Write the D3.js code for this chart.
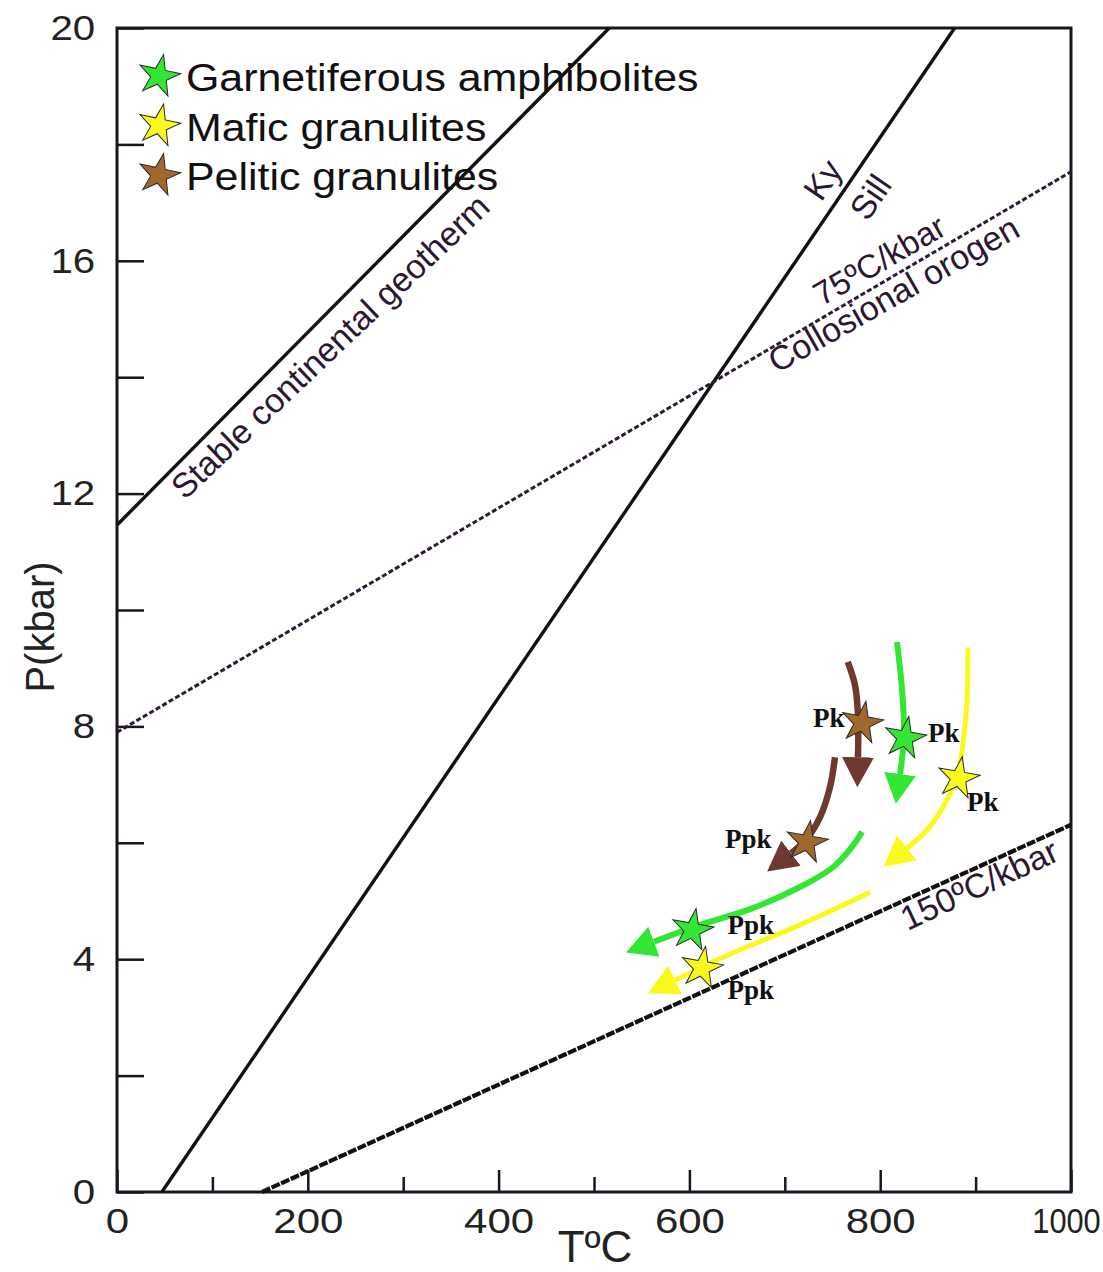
<!DOCTYPE html>
<html><head><meta charset="utf-8">
<script src="https://cdn.jsdelivr.net/npm/d3@7"></script>
<style>body{margin:0;background:#fff}</style>
</head><body><svg id="c" width="1103" height="1272"></svg>
<script>
// ---- data ----
const tempTicks = [0,100,200,300,400,500,600,700,800,900,1000];
const tempLabels = [0,200,400,600,800,1000];
const pressTicks = [0,2,4,6,8,10,12,14,16,18,20];
const pressLabels = [0,4,8,12,16,20];

// reference lines [T, P]
const stableGeotherm = [[0,11.46],[516,20]];
const kySill = [[47,0],[878,20]];
const orogen75 = [[0,7.9],[1000,17.53]];
const gradient150 = [[152,0],[1000,6.31]];

// P-T paths (last point = base of arrow head)
const pelitePath1 = [[766,9.11],[773.6,8.71],[776.7,8.20],[776.7,7.47]];
const pelitePath2 = [[752.6,7.47],[747.4,6.96],[736.9,6.44],[722.2,6.05],[706.5,5.82]];
const amphPath1 = [[817.6,9.45],[822.9,8.63],[825,7.85],[820.8,7.18]];
const amphPath2 = [[781,6.19],[770.4,5.93],[750.5,5.58],[715.9,5.24],[663.5,4.86],[611.1,4.59],[562.9,4.30]];
const maficPath1 = [[892,9.35],[891,8.45],[886.8,7.71],[880.5,7.13],[865.9,6.62],[849.1,6.22],[828.1,5.91]];
const maficPath2 = [[789.3,5.15],[716,4.59],[645.7,4.11],[584.9,3.64]];

// peak / post-peak stars [T, P]
const amphStars = [[826,7.80],[603,4.50]];
const maficStars = [[882,7.11],[613,3.85]];
const peliteStars = [[781,8.06],[723,6.01]];
const starLabels = [
  {t:"Pk",  T:729.6, P:7.99},
  {t:"Ppk", T:637.3, P:5.91},
  {t:"Pk",  T:850,   P:7.73},
  {t:"Ppk", T:640,   P:4.43},
  {t:"Pk",  T:891,   P:6.55},
  {t:"Ppk", T:640,   P:3.31}
];
const legendItems = ["Garnetiferous amphibolites","Mafic granulites","Pelitic granulites"];

// ---- drawing ----
const svg = d3.select("#c");
const x = d3.scaleLinear().domain([0,1000]).range([117,1071]);
const y = d3.scaleLinear().domain([0,20]).range([1192,28]);
const ink = "#1c1420";
const annot = "#2a1830";

const GREEN = "#33e633", YELLOW = "#f9f91e", BROWN_LINE = "#6e3a30", BROWN_STAR = "#a0682d";

const defs = svg.append("defs");
function marker(id, color){
  defs.append("marker").attr("id",id)
    .attr("viewBox","0 -16 30 32").attr("refX",0).attr("refY",0)
    .attr("markerWidth",30).attr("markerHeight",32)
    .attr("markerUnits","userSpaceOnUse").attr("orient","auto")
    .append("path").attr("d","M0,-16L30,0L0,16Z").attr("fill",color);
}
marker("mG",GREEN); marker("mY",YELLOW); marker("mB",BROWN_LINE);

// axes
const gx = svg.append("g").attr("transform",`translate(0,${y(0)})`);
gx.call(d3.axisBottom(x).tickValues(tempTicks.filter(d=>!tempLabels.includes(d))).tickSize(-15).tickFormat(""));
gx.call(g=>g.select(".domain").remove());
const gx2 = svg.append("g").attr("transform",`translate(0,${y(0)})`)
  .call(d3.axisBottom(x).tickValues(tempLabels).tickSize(-22).tickPadding(16).tickFormat(d3.format("d")));
gx2.select(".domain").remove();
svg.selectAll("g.tick line").attr("stroke",ink).attr("stroke-width",2.5);
gx2.selectAll("text").attr("font-family","Liberation Sans, Arial, sans-serif").attr("font-size",35)
  .attr("fill","#222").attr("transform",d=>d===1000?"translate(-5,0) scale(0.88,1)":"scale(1.2,1)");

const gy = svg.append("g").attr("transform",`translate(${x(0)},0)`)
  .call(d3.axisLeft(y).tickValues(pressTicks).tickSize(-27).tickPadding(19)
    .tickFormat(d=>pressLabels.includes(d)?d:""));
gy.select(".domain").remove();
gy.selectAll("line").attr("stroke",ink).attr("stroke-width",2.5);
gy.selectAll("text").attr("font-family","Liberation Sans, Arial, sans-serif").attr("font-size",35)
  .attr("fill","#222").attr("transform","scale(1.15,1)");

// frame
svg.append("rect").attr("x",x(0)).attr("y",y(20)).attr("width",x(1000)-x(0)).attr("height",y(0)-y(20))
  .attr("fill","none").attr("stroke",ink).attr("stroke-width",3);

// axis titles
svg.append("text").attr("transform",`translate(54,${(y(0)+y(20))/2+17}) rotate(-90)`)
  .attr("text-anchor","middle").attr("font-family","Liberation Sans, Arial, sans-serif")
  .attr("font-size",40).attr("fill","#222").text("P(kbar)");
svg.append("text").attr("x",(x(0)+x(1000))/2+1).attr("y",1262)
  .attr("text-anchor","middle").attr("font-family","Liberation Sans, Arial, sans-serif")
  .attr("font-size",44).attr("fill","#222").text("TºC");

// reference lines
const line = d3.line().x(d=>x(d[0])).y(d=>y(d[1]));
const plot = svg.append("g");
plot.append("path").attr("d",line(stableGeotherm)).attr("stroke","#111").attr("stroke-width",3.4).attr("fill","none");
plot.append("path").attr("d",line(kySill)).attr("stroke","#111").attr("stroke-width",3.4).attr("fill","none");
plot.append("path").attr("d",line(orogen75)).attr("stroke","#2d1a35").attr("stroke-width",3)
  .attr("stroke-dasharray","5,2.5").attr("fill","none");
plot.append("path").attr("d",line(gradient150)).attr("stroke","#111").attr("stroke-width",4.2)
  .attr("stroke-dasharray","9,1.5").attr("fill","none");

// annotations
function ann(txt,T,P,angle,size){
  svg.append("text").attr("transform",`translate(${x(T)},${y(P)}) rotate(${angle})`)
    .attr("text-anchor","middle").attr("font-family","Liberation Sans, Arial, sans-serif")
    .attr("font-size",size).attr("fill",annot).text(txt);
}
ann("Stable continental geotherm",232,14.38,-43.5,34);
ann("Ky",750,17.28,-55.7,34);
ann("Sill",800,16.98,-55.7,34);
ann("75ºC/kbar",805,15.84,-30,33);
ann("Collosional orogen",820,15.25,-29.5,34);
ann("150ºC/kbar",909,5.1,-25,34);

// P-T paths
const curve = d3.line().x(d=>x(d[0])).y(d=>y(d[1])).curve(d3.curveCatmullRom.alpha(0.5));
function pth(data,color,w,m){
  plot.append("path").attr("d",curve(data)).attr("fill","none").attr("stroke",color)
    .attr("stroke-width",w).attr("marker-end",`url(#${m})`);
}
pth(pelitePath1,BROWN_LINE,6.5,"mB");
pth(pelitePath2,BROWN_LINE,6.5,"mB");
pth(amphPath1,GREEN,6,"mG");
pth(amphPath2,GREEN,6,"mG");
pth(maficPath1,YELLOW,5,"mY");
pth(maficPath2,YELLOW,5,"mY");

// stars
const star = d3.symbol().type(d3.symbolStar).size(540);
function stars(data,color){
  plot.selectAll(null).data(data).enter().append("path")
    .attr("d",star).attr("transform",d=>`translate(${x(d[0])},${y(d[1])}) rotate(10)`)
    .attr("fill",color).attr("stroke","#2a2a2a").attr("stroke-width",1);
}
stars(peliteStars,BROWN_STAR);
stars(amphStars,GREEN);
stars(maficStars,YELLOW);

svg.selectAll(null).data(starLabels).enter().append("text")
  .attr("x",d=>x(d.T)).attr("y",d=>y(d.P))
  .attr("font-family","Liberation Serif, Times New Roman, serif").attr("font-weight","bold")
  .attr("font-size",27).attr("fill","#111").text(d=>d.t);

// legend
const legColors = [GREEN,YELLOW,BROWN_STAR];
const leg = svg.append("g");
legendItems.forEach((t,i)=>{
  const yy = 91 + i*49.5;
  leg.append("path").attr("d",star).attr("transform",`translate(159,${yy-15}) rotate(12)`)
    .attr("fill",legColors[i]).attr("stroke","#2a2a2a").attr("stroke-width",1);
  leg.append("text").attr("transform",`translate(186,${yy}) scale(1.1,1)`)
    .attr("font-family","Liberation Sans, Arial, sans-serif").attr("font-size",39)
    .attr("fill","#111").text(t);
});
</script>
</body></html>
